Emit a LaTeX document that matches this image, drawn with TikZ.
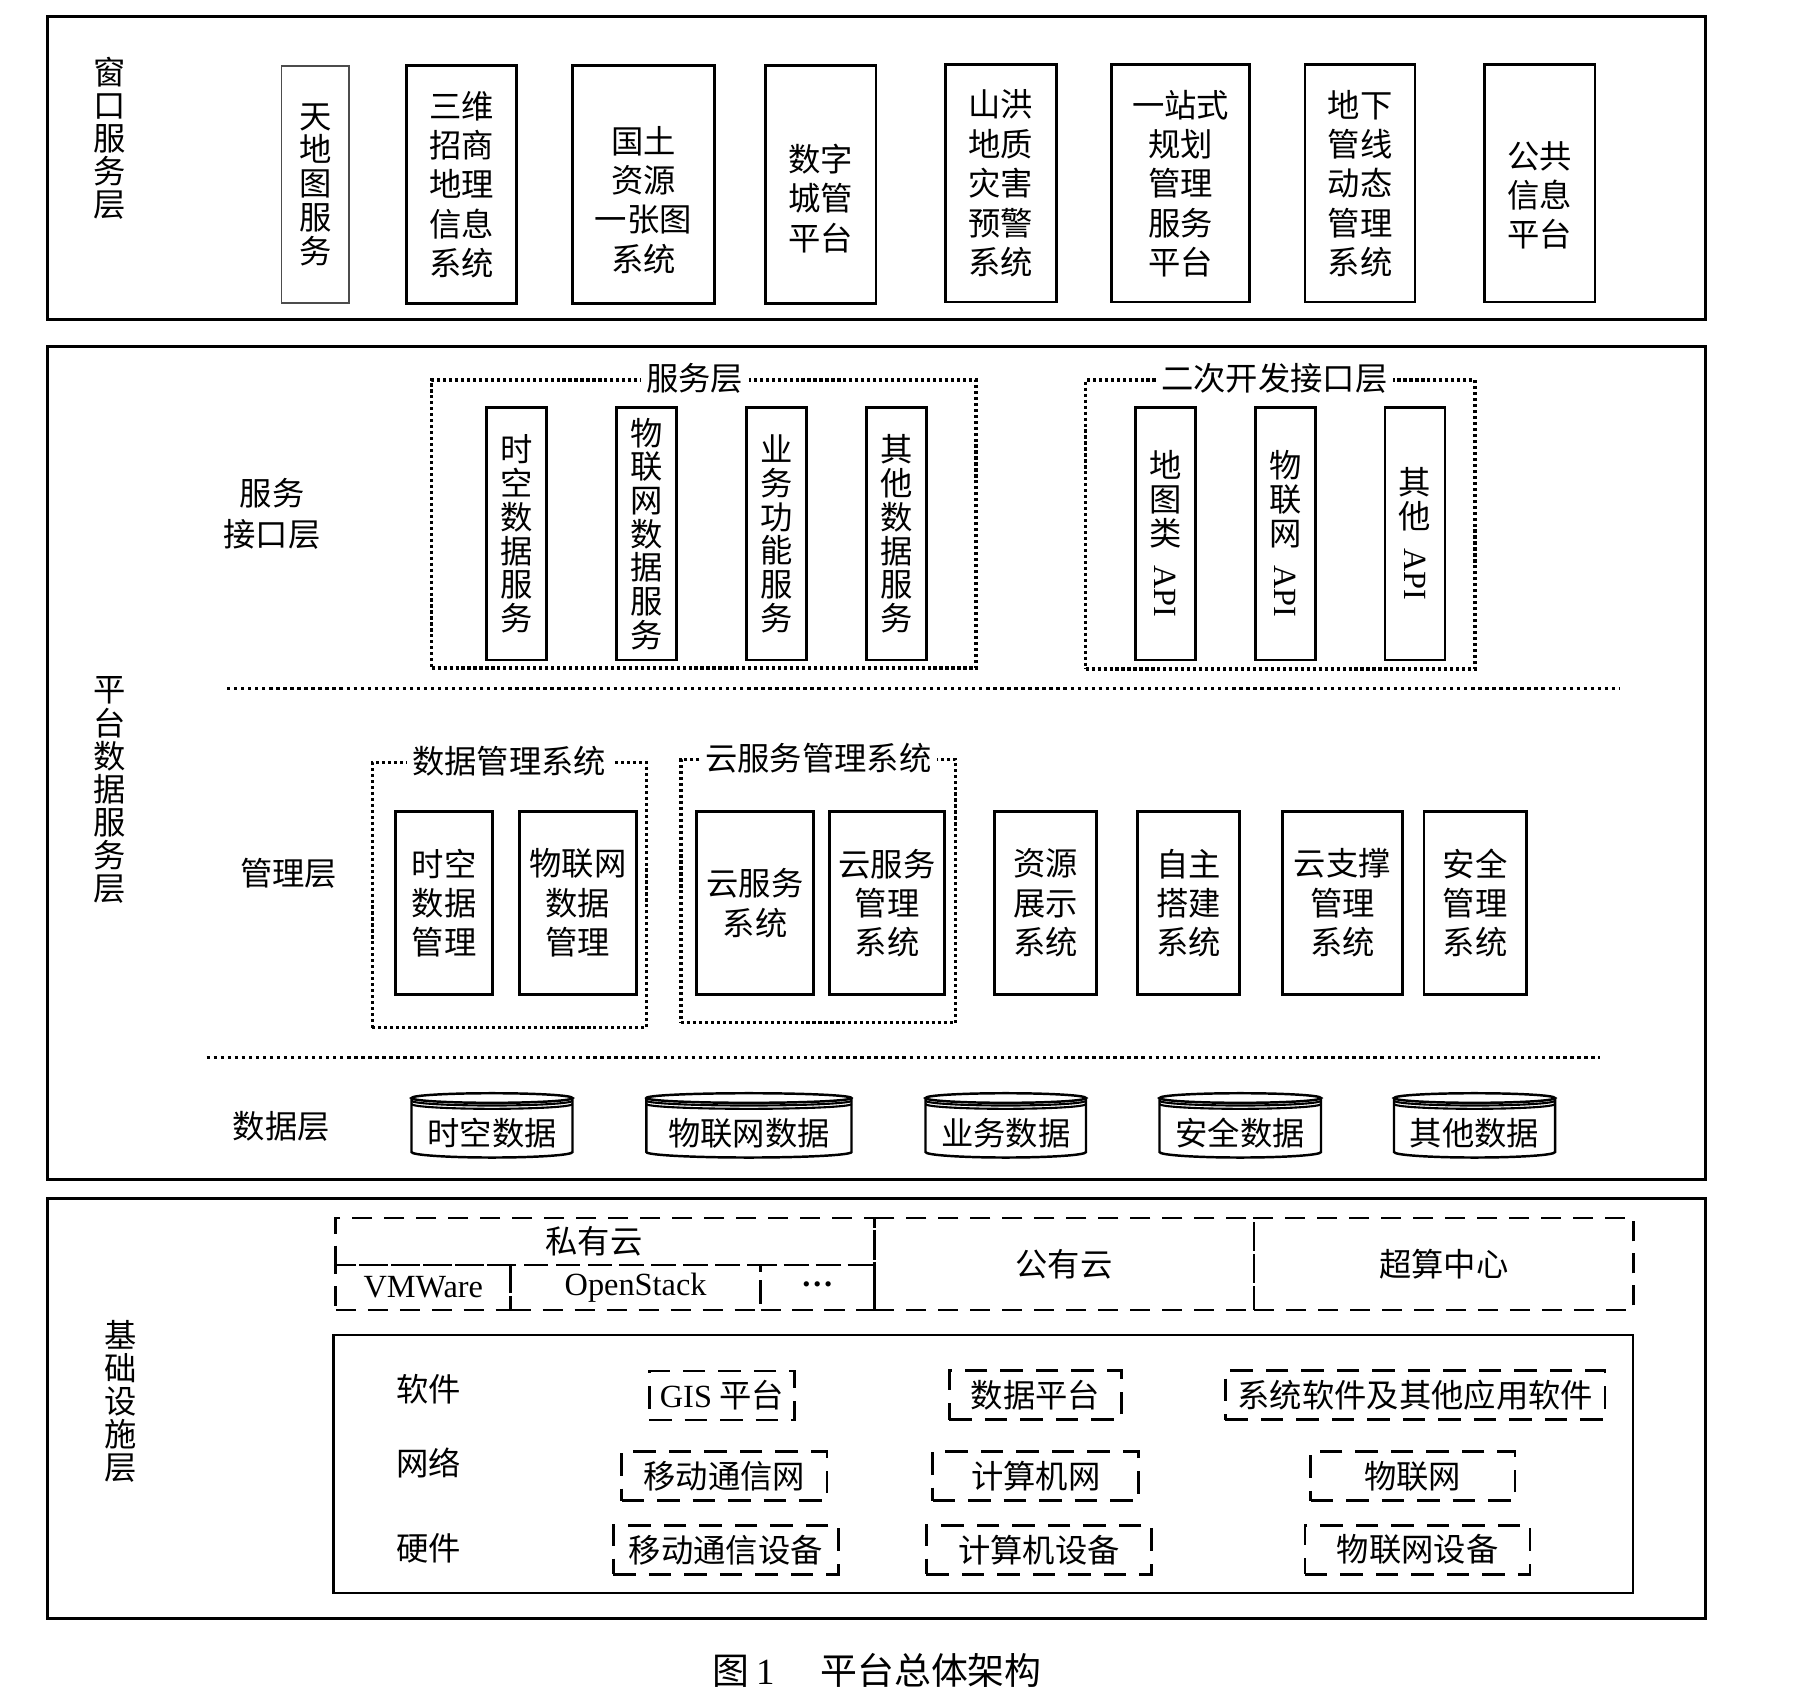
\documentclass[tikz,border=0pt]{standalone}
\usepackage{fontspec}
\setmainfont{Noto Sans CJK SC}
\newfontfamily\lat{Liberation Serif}

% 数据库圆柱: 名称, 左x, 右x, 文字
\newcommand{\datadb}[4]{%
  \pgfmathsetmacro{\dbrx}{(#3-#2)/2}%
  \pgfmathsetmacro{\dbcx}{(#3+#2)/2}%
  \draw[line width=0.7pt] (#2,-10.98) -- (#2,-11.52) arc[start angle=180,end angle=360,x radius=\dbrx cm,y radius=0.055cm] -- (#3,-10.98);
  \draw[line width=0.7pt] (\dbcx,-10.98) ellipse[x radius=\dbrx cm,y radius=0.048cm];
  \draw[line width=0.6pt] (#2,-11.007) arc[start angle=180,end angle=360,x radius=\dbrx cm,y radius=0.048cm];
  \draw[line width=0.6pt] (#2,-11.04) arc[start angle=180,end angle=360,x radius=\dbrx cm,y radius=0.048cm];
  \node[inner sep=0pt] (#1) at (\dbcx,-11.33) {#4};
}

\begin{document}
\begin{tikzpicture}[font=\fontsize{9.2pt}{11.2pt}\selectfont]
  \tikzstyle{layer}=[draw,line width=0.85pt,inner sep=0pt]
  \tikzstyle{box}=[draw,line width=0.75pt,inner sep=0pt,align=center]
  \tikzstyle{vbox}=[box,font=\fontsize{9.2pt}{9.6pt}\selectfont]
  \tikzstyle{side}=[align=center,inner sep=0pt,font=\fontsize{9.2pt}{9.4pt}\selectfont]
  \tikzstyle{lbl}=[align=center,inner sep=0pt]
  \tikzstyle{grp}=[draw,line width=0.9pt,dash pattern=on 0.9pt off 0.8pt,inner sep=0pt]
  \tikzstyle{grptitle}=[fill=white,inner sep=1.5pt]
  \tikzstyle{sepline}=[line width=0.95pt,dash pattern=on 0.95pt off 1.05pt]
  \tikzstyle{wbox}=[box,minimum height=2.375cm]
  \tikzstyle{sbox}=[vbox,minimum width=0.60cm,minimum height=2.523cm]
  \tikzstyle{mbox}=[box,minimum height=1.826cm]
  \tikzstyle{cloudbox}=[draw,line width=0.75pt,dash pattern=on 5.7pt off 3.4pt,inner sep=0pt]
  \tikzstyle{itembox}=[draw,line width=0.8pt,dash pattern=on 6.4pt off 3.7pt,inner sep=0pt,minimum height=0.49cm]
  \useasboundingbox (0,0) rectangle (18.10,-17.05);

  % 窗口服务层
  \node[layer,minimum width=16.575cm,minimum height=3.03cm] (win) at (8.7625,-1.675) {};
  \node[side] (winlbl) at (1.10,-1.38) {窗\\口\\服\\务\\层};
  \node[vbox,minimum width=0.674cm,minimum height=2.375cm,draw=black!70,line width=0.5pt] (wtdt) at (3.153,-1.845) {天\\地\\图\\服\\务};
  \node[wbox,minimum width=1.096cm] (wswzs) at (4.616,-1.845) {三维\\招商\\地理\\信息\\系统};
  \node[wbox,minimum width=1.42cm] (wgtzy) at (6.434,-1.845) {};
  \node[lbl] (wgtzyt) at ([yshift=-1.55mm]wgtzy.center) {国土\\资源\\一张图\\系统};
  \node[wbox,minimum width=1.103cm] (wszcg) at (8.209,-1.845) {};
  \node[lbl] (wszcgt) at ([yshift=-1.4mm]wszcg.center) {数字\\城管\\平台};
  \node[wbox,minimum width=1.108cm] (wshdz) at (10.008,-1.834) {山洪\\地质\\灾害\\预警\\系统};
  \node[wbox,minimum width=1.379cm] (wyzs) at (11.806,-1.834) {一站式\\规划\\管理\\服务\\平台};
  \node[wbox,minimum width=1.102cm] (wdxgx) at (13.60,-1.834) {地下\\管线\\动态\\管理\\系统};
  \node[wbox,minimum width=1.108cm] (wggxx) at (15.397,-1.834) {};
  \node[lbl] (wggxxt) at ([yshift=-1.2mm]wggxx.center) {公共\\信息\\平台};

  % 平台数据服务层
  \node[layer,minimum width=16.575cm,minimum height=8.33cm] (plat) at (8.7625,-7.63) {};
  \node[side] (platlbl) at (1.10,-7.90) {平\\台\\数\\据\\服\\务\\层};
  \node[lbl,font=\fontsize{9.2pt}{11.6pt}\selectfont] (apilbl) at (2.72,-5.135) {服务\\接口层};
  \node[grp,minimum width=5.444cm,minimum height=2.88cm] (svcgrp) at (7.038,-5.24) {};
  \node[grptitle] (svcttl) at ([xshift=-0.9mm]svcgrp.north) {服务层};
  \node[sbox] (svcsk) at (5.165,-5.339) {时\\空\\数\\据\\服\\务};
  \node[sbox] (svcwlw) at (6.466,-5.339) {物\\联\\网\\数\\据\\服\\务};
  \node[sbox] (svcyw) at (7.764,-5.339) {业\\务\\功\\能\\服\\务};
  \node[sbox] (svcqt) at (8.962,-5.339) {其\\他\\数\\据\\服\\务};
  \node[grp,minimum width=3.894cm,minimum height=2.89cm] (apigrp) at (12.803,-5.245) {};
  \node[grptitle] (apittl) at ([xshift=-0.6mm]apigrp.north) {二次开发接口层};
  \node[sbox] (apidt) at (11.655,-5.339) {地\\图\\类\\[-4pt]\rotatebox{-90}{\lat API}};
  \node[sbox] (apiwlw) at (12.853,-5.339) {物\\联\\网\\[-4pt]\rotatebox{-90}{\lat API}};
  \node[sbox] (apiqt) at (14.148,-5.339) {其\\他\\[-4pt]\rotatebox{-90}{\lat API}};
  \draw[sepline] (2.27,-6.883) -- (16.19,-6.883);

  \node[lbl] (mgmtlbl) at (2.885,-8.735) {管理层};
  \node[grp,minimum width=2.741cm,minimum height=2.65cm] (datagrp) at (5.093,-8.952) {};
  \node[grptitle] (datattl) at (datagrp.north) {数据管理系统};
  \node[mbox,minimum width=0.964cm] (mgsk) at (4.44,-9.03) {时空\\数据\\管理};
  \node[mbox,minimum width=1.172cm] (mgwlw) at (5.779,-9.03) {物联网\\数据\\管理};
  \node[grp,minimum width=2.748cm,minimum height=2.634cm] (cloudgrp) at (8.184,-8.91) {};
  \node[grptitle] (cloudttl) at (cloudgrp.north) {云服务管理系统};
  \node[mbox,minimum width=1.171cm] (mgyfw) at (7.551,-9.03) {云服务\\系统};
  \node[mbox,minimum width=1.144cm] (mgyfwgl) at (8.87,-9.03) {云服务\\管理\\系统};
  \node[mbox,minimum width=1.022cm] (mgzy) at (10.455,-9.03) {资源\\展示\\系统};
  \node[mbox,minimum width=1.022cm] (mgzz) at (11.886,-9.03) {自主\\搭建\\系统};
  \node[mbox,minimum width=1.20cm] (mgyzc) at (13.424,-9.03) {云支撑\\管理\\系统};
  \node[mbox,minimum width=1.027cm] (mgaq) at (14.752,-9.03) {安全\\管理\\系统};
  \draw[sepline] (2.066,-10.575) -- (15.995,-10.575);

  \node[lbl] (datalbl) at (2.814,-11.26) {数据层};
  \datadb{dbsk}{4.115}{5.725}{时空数据}
  \datadb{dbwlw}{6.463}{8.515}{物联网数据}
  \datadb{dbyw}{9.255}{10.86}{业务数据}
  \datadb{dbaq}{11.595}{13.21}{安全数据}
  \datadb{dbqt}{13.94}{15.55}{其他数据}

  % 基础设施层
  \node[layer,minimum width=16.575cm,minimum height=4.202cm] (infra) at (8.7625,-14.084) {};
  \node[side] (infralbl) at (1.21,-14.01) {基\\础\\设\\施\\层};
  \node[cloudbox,minimum width=5.384cm,minimum height=0.47cm] (prv) at (6.05,-12.415) {};
  \node[lbl] (prvt) at ([xshift=-1.1mm]prv.center) {私有云};
  \node[cloudbox,minimum width=1.749cm,minimum height=0.45cm] (vmw) at (4.2325,-12.875) {\lat VMWare};
  \node[cloudbox,minimum width=2.498cm,minimum height=0.45cm] (ops) at (6.356,-12.875) {\lat OpenStack};
  \node[cloudbox,minimum width=1.137cm,minimum height=0.45cm] (etc) at (8.1735,-12.875) {\raisebox{0.22em}{\lat\bfseries …}};
  \node[cloudbox,minimum width=3.799cm,minimum height=0.92cm] (pub) at (10.6415,-12.64) {公有云};
  \node[cloudbox,minimum width=3.791cm,minimum height=0.92cm] (sup) at (14.4365,-12.64) {超算中心};

  \node[box,line width=0.7pt,minimum width=12.997cm,minimum height=2.58cm] (res) at (9.8335,-14.64) {};
  \node[lbl] (soft) at (4.285,-13.89) {软件};
  \node[lbl] (net) at (4.285,-14.63) {网络};
  \node[lbl] (hard) at (4.285,-15.48) {硬件};
  \node[itembox,minimum width=1.454cm] (swgis) at (7.219,-13.955) {{\lat GIS} 平台};
  \node[itembox,minimum width=1.72cm] (swsjpt) at (10.354,-13.95) {数据平台};
  \node[itembox,minimum width=3.797cm] (swxtrj) at (14.152,-13.95) {系统软件及其他应用软件};
  \node[itembox,minimum width=2.055cm] (nwyd) at (7.243,-14.762) {移动通信网};
  \node[itembox,minimum width=2.06cm] (nwjsj) at (10.357,-14.762) {计算机网};
  \node[itembox,minimum width=2.044cm] (nwwlw) at (14.128,-14.762) {物联网};
  \node[itembox,minimum width=2.25cm] (hwyd) at (7.259,-15.497) {移动通信设备};
  \node[itembox,minimum width=2.25cm] (hwjsj) at (10.389,-15.497) {计算机设备};
  \node[itembox,minimum width=2.251cm] (hwwlw) at (14.175,-15.497) {物联网设备};

  \node[font=\fontsize{10.5pt}{12pt}\selectfont] (cap) at (8.77,-16.70) {图\hspace{2pt}{\lat 1}\hspace{13pt}平台总体架构};
\end{tikzpicture}
\end{document}
